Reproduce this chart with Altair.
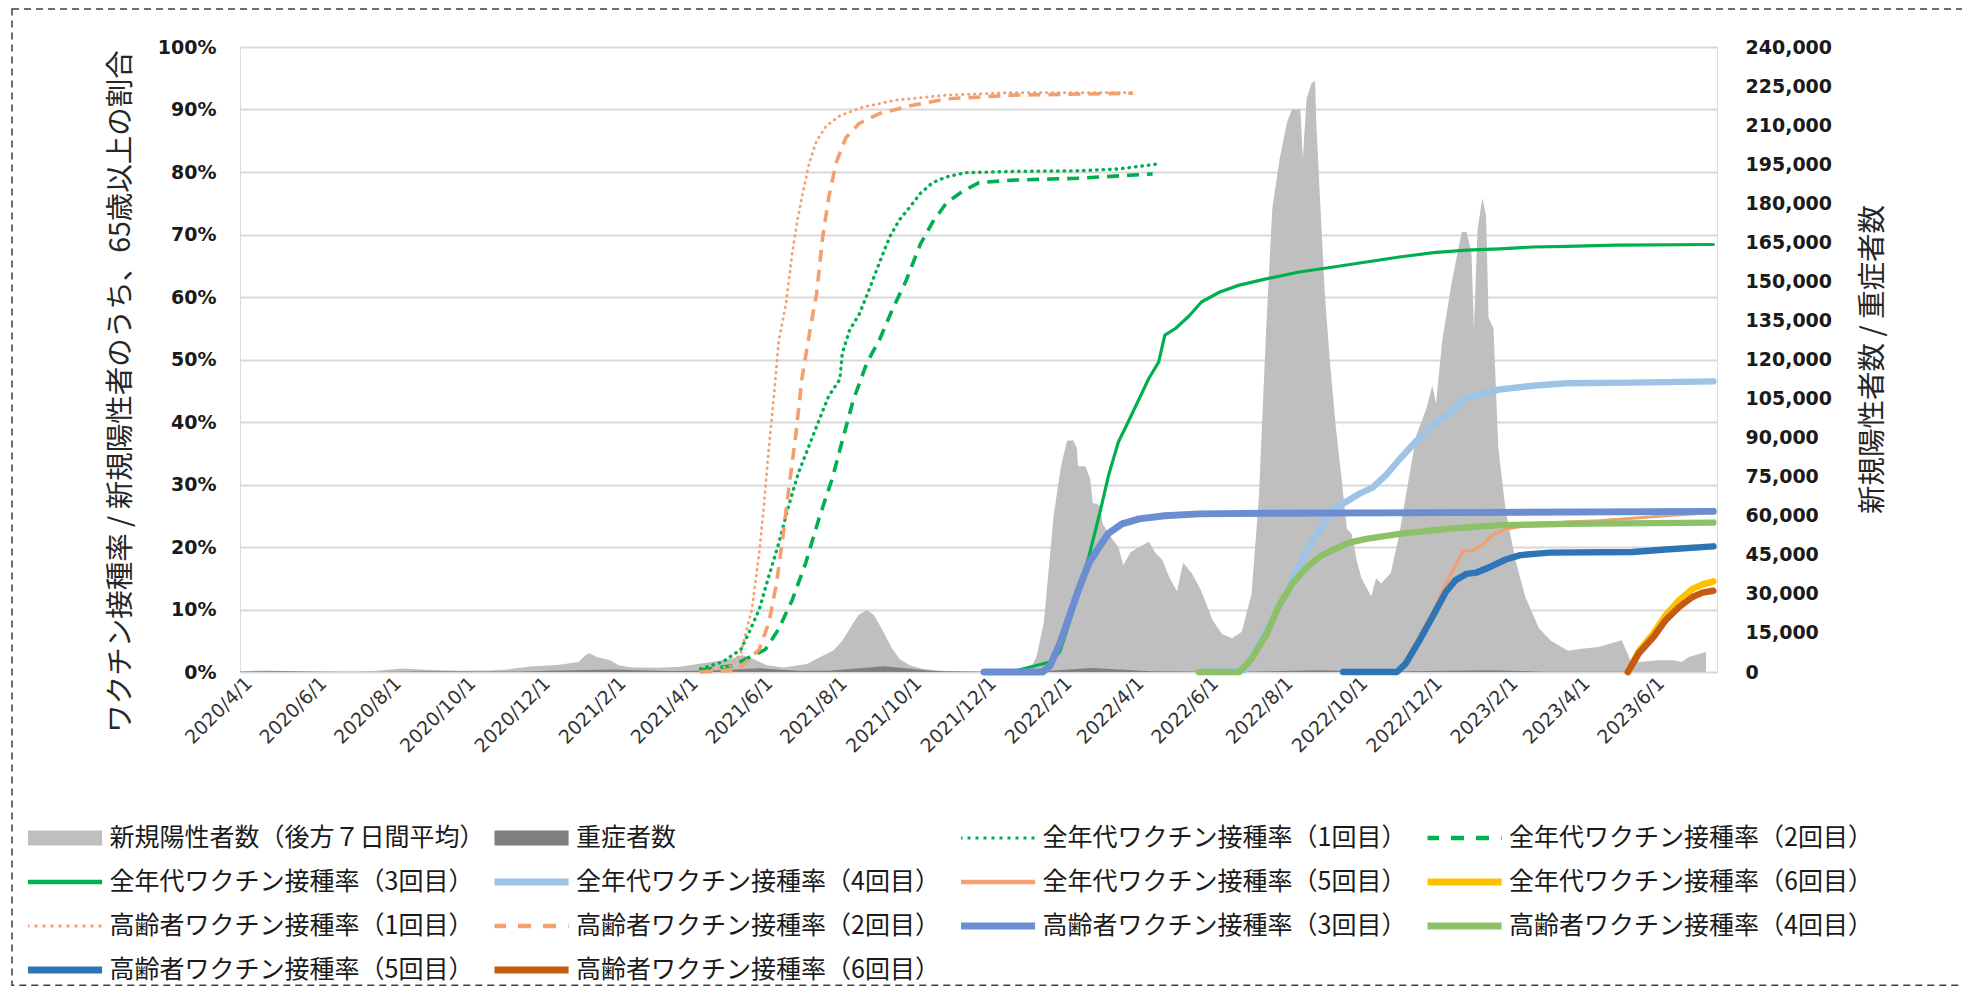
import json
import altair as alt
import pandas as pd

# ---------------- data ----------------
SERIES = [
    "新規陽性者数（後方７日間平均）", "重症者数",
    "全年代ワクチン接種率（1回目）", "全年代ワクチン接種率（2回目）",
    "全年代ワクチン接種率（3回目）", "全年代ワクチン接種率（4回目）",
    "全年代ワクチン接種率（5回目）", "全年代ワクチン接種率（6回目）",
    "高齢者ワクチン接種率（1回目）", "高齢者ワクチン接種率（2回目）",
    "高齢者ワクチン接種率（3回目）", "高齢者ワクチン接種率（4回目）",
    "高齢者ワクチン接種率（5回目）", "高齢者ワクチン接種率（6回目）",
]
COLORS = ["#BFBFBF", "#7F7F7F", "#00B050", "#00B050", "#00B050", "#9DC3E6", "#F4A06E", "#FFC000",
          "#F4A06E", "#F4A06E", "#6A8ED0", "#8CC168", "#2E75B6", "#C55A11"]

TICK_LABELS = ["2020/4/1", "2020/6/1", "2020/8/1", "2020/10/1", "2020/12/1", "2021/2/1", "2021/4/1",
               "2021/6/1", "2021/8/1", "2021/10/1", "2021/12/1", "2022/2/1", "2022/4/1", "2022/6/1",
               "2022/8/1", "2022/10/1", "2022/12/1", "2023/2/1", "2023/4/1", "2023/6/1"]
LEFT_TICKS = [0, 10, 20, 30, 40, 50, 60, 70, 80, 90, 100]
RIGHT_TICKS = [0, 15000, 30000, 45000, 60000, 75000, 90000, 105000, 120000, 135000, 150000,
               165000, 180000, 195000, 210000, 225000, 240000]

POSITIVES = [
    ("2020-03-25", 300), ("2020-04-05", 450), ("2020-04-15", 550), ("2020-05-05", 250), ("2020-05-25", 60),
    ("2020-06-25", 100), ("2020-07-15", 500), ("2020-08-05", 1300), ("2020-08-25", 900), ("2020-09-20", 500),
    ("2020-10-15", 550), ("2020-10-30", 1000), ("2020-11-20", 2200), ("2020-12-10", 2700), ("2020-12-27", 3800),
    ("2021-01-02", 6500), ("2021-01-05", 7200), ("2021-01-11", 5800), ("2021-01-22", 4500), ("2021-01-29", 2600),
    ("2021-02-09", 1700), ("2021-03-01", 1600), ("2021-03-18", 1900), ("2021-04-01", 2900), ("2021-04-16", 3900),
    ("2021-05-01", 5100), ("2021-05-10", 6500), ("2021-05-19", 5100), ("2021-05-30", 2600), ("2021-06-13", 1700),
    ("2021-07-02", 3100), ("2021-07-13", 5800), ("2021-07-24", 8400), ("2021-07-31", 12000), ("2021-08-07", 17300),
    ("2021-08-13", 21800), ("2021-08-20", 23800), ("2021-08-26", 21800), ("2021-09-02", 16000), ("2021-09-09", 9600),
    ("2021-09-16", 5000), ("2021-09-24", 2600), ("2021-10-05", 1200), ("2021-10-25", 300), ("2021-11-20", 150),
    ("2021-12-20", 250), ("2022-01-01", 1200), ("2022-01-06", 6000), ("2022-01-12", 19000), ("2022-01-20", 60000),
    ("2022-01-26", 79000), ("2022-01-31", 88800), ("2022-02-05", 89000), ("2022-02-08", 86000), ("2022-02-09", 79000),
    ("2022-02-15", 79000), ("2022-02-19", 74000), ("2022-02-21", 65000), ("2022-02-27", 64000), ("2022-03-01", 57000),
    ("2022-03-06", 53000), ("2022-03-14", 48000), ("2022-03-18", 41000), ("2022-03-24", 46000), ("2022-03-31", 48000),
    ("2022-04-08", 50000), ("2022-04-13", 46000), ("2022-04-19", 43000), ("2022-04-25", 36000), ("2022-05-01", 31000),
    ("2022-05-06", 42000), ("2022-05-13", 38000), ("2022-05-21", 31000), ("2022-05-30", 20000), ("2022-06-07", 14500),
    ("2022-06-15", 13000), ("2022-06-23", 15500), ("2022-07-01", 30000), ("2022-07-07", 67000), ("2022-07-13", 132000),
    ("2022-07-18", 178000), ("2022-07-24", 197000), ("2022-07-30", 211000), ("2022-08-03", 216000), ("2022-08-10", 216000),
    ("2022-08-12", 197000), ("2022-08-15", 220000), ("2022-08-19", 226000), ("2022-08-22", 227000), ("2022-08-23", 211000),
    ("2022-08-26", 182000), ("2022-08-30", 145000), ("2022-09-03", 120000), ("2022-09-08", 94000), ("2022-09-13", 73000),
    ("2022-09-17", 55000), ("2022-09-21", 53000), ("2022-09-25", 43000), ("2022-09-29", 36000), ("2022-10-07", 29000),
    ("2022-10-11", 36000), ("2022-10-15", 34000), ("2022-10-23", 38000), ("2022-10-30", 53000), ("2022-11-04", 67000),
    ("2022-11-13", 91000), ("2022-11-21", 101000), ("2022-11-26", 110000), ("2022-11-29", 103000), ("2022-12-04", 127000),
    ("2022-12-12", 150000), ("2022-12-20", 169000), ("2022-12-24", 169000), ("2022-12-28", 161000), ("2022-12-30", 132000),
    ("2023-01-02", 170000), ("2023-01-06", 182000), ("2023-01-09", 175000), ("2023-01-11", 136000), ("2023-01-15", 132000),
    ("2023-01-19", 86000), ("2023-01-25", 62000), ("2023-02-02", 43000), ("2023-02-10", 29000), ("2023-02-21", 17000),
    ("2023-03-03", 12000), ("2023-03-17", 8200), ("2023-03-28", 8900), ("2023-04-11", 9600), ("2023-04-30", 12200),
    ("2023-05-07", 4600), ("2023-05-15", 3800), ("2023-05-29", 4500), ("2023-06-12", 4500), ("2023-06-18", 3800),
    ("2023-06-24", 5800), ("2023-07-08", 7700),
]

SEVERE = [
    ("2020-03-25", 60), ("2020-04-30", 330), ("2020-06-10", 70), ("2020-07-15", 40), ("2020-08-25", 260),
    ("2020-10-05", 150), ("2020-11-10", 200), ("2020-12-10", 550), ("2021-01-25", 1000), ("2021-03-10", 350),
    ("2021-04-10", 450), ("2021-05-25", 1400), ("2021-06-25", 500), ("2021-07-20", 450), ("2021-09-03", 2200),
    ("2021-10-15", 350), ("2021-11-25", 70), ("2022-01-05", 50), ("2022-02-20", 1500), ("2022-04-10", 300),
    ("2022-06-20", 60), ("2022-08-25", 630), ("2022-10-10", 100), ("2022-12-10", 450), ("2023-01-15", 700),
    ("2023-02-25", 130), ("2023-05-07", 50),
]

ALL_1 = [("2021-04-06", 0.5), ("2021-04-24", 1.6), ("2021-05-09", 3.6), ("2021-05-17", 6.9), ("2021-05-24", 10.0),
         ("2021-06-01", 15.4), ("2021-06-09", 20.6), ("2021-06-17", 26.5), ("2021-06-25", 31.8), ("2021-07-04", 36.3),
         ("2021-07-12", 40.3), ("2021-07-20", 44.2), ("2021-07-29", 46.8), ("2021-07-31", 51.0), ("2021-08-06", 54.7),
         ("2021-08-14", 57.3), ("2021-08-22", 61.2), ("2021-08-31", 65.8), ("2021-09-08", 69.7), ("2021-09-16", 72.4),
         ("2021-09-24", 74.3), ("2021-10-03", 76.6), ("2021-10-13", 78.3), ("2021-10-24", 79.2), ("2021-11-09", 79.9),
         ("2021-12-18", 80.1), ("2022-02-10", 80.2), ("2022-03-15", 80.5), ("2022-04-16", 81.3)]
ALL_2 = [("2021-04-06", 0.3), ("2021-05-02", 1.0), ("2021-05-29", 3.6), ("2021-06-09", 6.9), ("2021-06-20", 11.5),
         ("2021-07-01", 17.4), ("2021-07-12", 24.6), ("2021-07-23", 31.1), ("2021-07-31", 37.0), ("2021-08-09", 43.5),
         ("2021-08-20", 49.4), ("2021-08-31", 53.4), ("2021-09-10", 58.0), ("2021-09-21", 62.5), ("2021-10-03", 68.5),
         ("2021-10-13", 72.0), ("2021-10-24", 75.0), ("2021-11-07", 77.0), ("2021-11-20", 78.3), ("2021-12-18", 78.7),
         ("2022-02-10", 79.0), ("2022-04-11", 79.7)]
ALL_3 = [("2021-11-24", 0.0), ("2021-12-20", 0.2), ("2022-01-01", 0.8), ("2022-01-17", 1.6), ("2022-01-25", 3.2),
         ("2022-02-02", 8.0), ("2022-02-10", 13.3), ("2022-02-18", 18.6), ("2022-02-27", 25.6), ("2022-03-06", 31.5),
         ("2022-03-14", 36.8), ("2022-03-22", 40.0), ("2022-03-31", 43.7), ("2022-04-08", 47.0), ("2022-04-16", 49.6),
         ("2022-04-21", 53.9), ("2022-04-30", 55.0), ("2022-05-11", 57.0), ("2022-05-21", 59.2), ("2022-06-05", 60.8),
         ("2022-06-21", 61.9), ("2022-07-13", 62.9), ("2022-08-09", 64.0), ("2022-09-06", 64.8), ("2022-10-03", 65.6),
         ("2022-10-30", 66.4), ("2022-11-27", 67.1), ("2022-12-24", 67.5), ("2023-01-20", 67.7), ("2023-02-16", 68.0),
         ("2023-03-16", 68.1), ("2023-04-26", 68.3), ("2023-07-14", 68.4)]
ALL_4 = [("2022-05-19", 0.0), ("2022-06-25", 0.3), ("2022-07-01", 2.5), ("2022-07-13", 6.5), ("2022-07-27", 11.5),
         ("2022-08-04", 15.0), ("2022-08-15", 19.2), ("2022-08-26", 22.9), ("2022-09-06", 26.0), ("2022-09-17", 27.3),
         ("2022-09-27", 28.5), ("2022-10-08", 29.5), ("2022-10-19", 31.5), ("2022-10-30", 34.0), ("2022-11-13", 37.0),
         ("2022-11-27", 39.6), ("2022-12-11", 41.6), ("2022-12-24", 43.9), ("2023-01-06", 44.5), ("2023-01-20", 45.2),
         ("2023-02-16", 45.8), ("2023-03-16", 46.2), ("2023-05-09", 46.3), ("2023-07-14", 46.5)]
ALL_5 = [("2022-09-14", 0.0), ("2022-10-28", 0.2), ("2022-11-04", 1.8), ("2022-11-15", 5.5), ("2022-11-26", 9.5),
         ("2022-12-07", 14.0), ("2022-12-21", 19.3), ("2022-12-29", 19.5), ("2023-01-06", 20.3), ("2023-01-14", 21.9),
         ("2023-01-25", 22.9), ("2023-02-16", 23.6), ("2023-03-16", 24.0), ("2023-04-11", 24.2), ("2023-05-09", 24.6),
         ("2023-06-05", 25.0), ("2023-06-27", 25.3), ("2023-07-14", 25.6)]
ALL_6 = [("2023-05-05", 0.0), ("2023-05-14", 3.3), ("2023-05-26", 6.2), ("2023-06-05", 9.1), ("2023-06-16", 11.5),
         ("2023-06-27", 13.3), ("2023-07-05", 14.0), ("2023-07-14", 14.5)]
ELD_1 = [("2021-04-06", 0.0), ("2021-05-01", 1.0), ("2021-05-09", 3.0), ("2021-05-14", 7.0), ("2021-05-18", 10.0),
         ("2021-05-24", 19.0), ("2021-05-28", 27.0), ("2021-06-01", 36.0), ("2021-06-05", 44.0), ("2021-06-09", 53.0),
         ("2021-06-15", 59.0), ("2021-06-20", 67.0), ("2021-06-24", 72.0), ("2021-06-28", 76.0), ("2021-07-04", 81.5),
         ("2021-07-10", 85.0), ("2021-07-18", 87.4), ("2021-07-29", 89.0), ("2021-08-17", 90.4), ("2021-09-13", 91.5),
         ("2021-10-24", 92.3), ("2021-12-18", 92.7), ("2022-03-26", 92.7)]
ELD_2 = [("2021-04-06", 0.0), ("2021-05-06", 0.3), ("2021-05-24", 3.6), ("2021-06-01", 8.0), ("2021-06-07", 14.0),
         ("2021-06-12", 21.0), ("2021-06-17", 29.0), ("2021-06-23", 38.0), ("2021-06-28", 47.0), ("2021-07-04", 54.0),
         ("2021-07-10", 60.6), ("2021-07-15", 69.7), ("2021-07-20", 76.0), ("2021-07-26", 81.5), ("2021-08-03", 85.5),
         ("2021-08-14", 87.8), ("2021-08-31", 89.4), ("2021-09-27", 90.7), ("2021-10-24", 91.7), ("2021-12-18", 92.3),
         ("2022-03-26", 92.6)]
ELD_3 = [("2021-11-24", 0.0), ("2022-01-11", 0.0), ("2022-01-17", 1.0), ("2022-01-25", 4.5), ("2022-02-02", 9.0),
         ("2022-02-10", 13.5), ("2022-02-18", 17.5), ("2022-02-27", 20.2), ("2022-03-06", 22.2), ("2022-03-17", 23.7),
         ("2022-03-31", 24.5), ("2022-04-21", 25.0), ("2022-05-19", 25.3), ("2022-07-13", 25.4), ("2022-12-11", 25.5),
         ("2023-07-14", 25.7)]
ELD_4 = [("2022-05-19", 0.0), ("2022-06-21", 0.0), ("2022-07-01", 2.1), ("2022-07-13", 6.0), ("2022-07-24", 10.8),
         ("2022-08-04", 14.3), ("2022-08-15", 16.7), ("2022-08-26", 18.5), ("2022-09-06", 19.6), ("2022-09-19", 20.7),
         ("2022-10-03", 21.3), ("2022-10-30", 22.1), ("2022-12-08", 22.9), ("2023-01-20", 23.5), ("2023-03-16", 23.7),
         ("2023-07-14", 23.9)]
ELD_5 = [("2022-09-14", 0.0), ("2022-10-28", 0.0), ("2022-11-04", 1.3), ("2022-11-15", 4.9), ("2022-11-26", 8.8),
         ("2022-12-07", 12.8), ("2022-12-15", 14.7), ("2022-12-24", 15.7), ("2023-01-01", 15.9), ("2023-01-11", 16.7),
         ("2023-01-25", 18.0), ("2023-02-06", 18.7), ("2023-03-02", 19.1), ("2023-05-09", 19.2), ("2023-06-05", 19.6),
         ("2023-07-14", 20.1)]
ELD_6 = [("2023-05-05", 0.0), ("2023-05-14", 3.0), ("2023-05-26", 5.6), ("2023-06-05", 8.3), ("2023-06-16", 10.4),
         ("2023-06-27", 12.0), ("2023-07-05", 12.7), ("2023-07-14", 13.0)]

LINE_DATA = [ALL_1, ALL_2, ALL_3, ALL_4, ALL_5, ALL_6, ELD_1, ELD_2, ELD_3, ELD_4, ELD_5, ELD_6]

# ---------------- styles ----------------
DOT_G = dict(strokeWidth=3.4, strokeDash=[0.5, 6], strokeCap="round")
DOT_O = dict(strokeWidth=2.8, strokeDash=[0.5, 5.5], strokeCap="round")
DASH = dict(strokeWidth=3.6, strokeDash=[12, 8], strokeCap="butt")
THIN = dict(strokeWidth=3.2, strokeCap="round")
THICK = dict(strokeWidth=6.5, strokeCap="round")
LINE_STYLES = [DOT_G, DASH, THIN, THICK, THIN, THICK, DOT_O, DASH, dict(strokeWidth=7, strokeCap="round"),
               THICK, THICK, THICK]

JP = "Noto Sans CJK JP"
NUM = "DejaVu Sans"


def frame(rows, name, col):
    df = pd.DataFrame(rows, columns=["date", col])
    df["series"] = name
    return df


def dt(s):
    y, m, d = (int(p) for p in s.split("/"))
    return alt.DateTime(year=y, month=m, date=d, utc=True)


X = alt.X(
    "date:T",
    scale=alt.Scale(type="utc", domain=[dt("2020/3/25"), dt("2023/7/17")]),
    axis=alt.Axis(values=[dt(t) for t in TICK_LABELS], format="%Y/%-m/%-d", labelAngle=315,
                  labelAlign="right", labelBaseline="middle", labelPadding=8, labelFont=NUM,
                  labelFontSize=19, labelColor="#333333", labelOverlap=False, domain=False,
                  ticks=False, grid=False, title=None),
)

Y_RIGHT = alt.Y(
    "count:Q",
    scale=alt.Scale(domain=[0, 240000], nice=False),
    axis=alt.Axis(orient="right", values=RIGHT_TICKS, labelExpr="format(datum.value, ',')",
                  labelFont=NUM, labelFontWeight="bold",
                  labelFontSize=19, labelColor="#1a1a1a", labelPadding=28, domain=False, ticks=False,
                  grid=False, title="新規陽性者数 / 重症者数", titleFont=JP, titleFontSize=28.5,
                  titleFontWeight="normal", titleColor="#262626", titleAngle=270, titleX=155,
                  titleY=312, titleAlign="center", titleBaseline="middle"),
)

Y_LEFT = alt.Y(
    "value:Q",
    scale=alt.Scale(domain=[0, 100], nice=False),
    axis=alt.Axis(orient="left", values=LEFT_TICKS, labelExpr="datum.value + '%'", labelFont=NUM,
                  labelFontWeight="bold", labelFontSize=19, labelColor="#1a1a1a", labelPadding=24,
                  domain=False, ticks=False, grid=True, gridColor="#D9D9D9", gridWidth=2,
                  title="ワクチン接種率 / 新規陽性者のうち、65歳以上の割合", titleFont=JP, titleFontSize=28.5,
                  titleFontWeight="normal", titleColor="#262626", titleAngle=270, titleX=-120,
                  titleY=344, titleAlign="center", titleBaseline="middle"),
)

# legend symbol styling by entry
GRAY_NAMES = json.dumps(SERIES[:2], ensure_ascii=False)
THICK_NAMES = json.dumps([SERIES[i] for i in (5, 7, 10, 11, 12, 13)], ensure_ascii=False)
DOT_NAMES = json.dumps([SERIES[2], SERIES[8]], ensure_ascii=False)
DASH_NAMES = json.dumps([SERIES[3], SERIES[9]], ensure_ascii=False)
width_expr = (f"indexof({GRAY_NAMES}, datum.value) >= 0 ? 15 : "
              f"(indexof({THICK_NAMES}, datum.value) >= 0 ? 7 : "
              f"(indexof({DOT_NAMES}, datum.value) >= 0 ? 3 : 4.5))")
dash_expr = (f"indexof({DOT_NAMES}, datum.value) >= 0 ? [3, 5] : "
             f"(indexof({DASH_NAMES}, datum.value) >= 0 ? [13, 12] : [1, 0])")

LEGEND = alt.Legend(
    title=None, orient="none", direction="horizontal", legendX=-212, legendY=777, columns=4,
    gridAlign="all", columnPadding=9.5, rowPadding=16,
    symbolType="M-2.7,0H2.7", symbolSize=784, clipHeight=28, symbolOffset=23.8,
    labelFont=JP, labelFontSize=25, labelColor="#1a1a1a", labelOffset=32.8, labelLimit=700,
    padding=0, symbolOpacity=1,
    symbolStrokeWidth={"expr": width_expr},
    symbolDash={"expr": dash_expr},
)
COLOR = alt.Color("series:N", scale=alt.Scale(domain=SERIES, range=COLORS), legend=LEGEND)

# ---------------- chart ----------------
pos_area = alt.Chart(frame(POSITIVES, SERIES[0], "count")).mark_area(
    color=COLORS[0], interpolate="linear").encode(x=X, y=Y_RIGHT)
sev_area = alt.Chart(frame(SEVERE, SERIES[1], "count")).mark_area(
    color=COLORS[1], interpolate="linear").encode(x=X, y=Y_RIGHT)
areas = alt.layer(pos_area, sev_area)

line_layers = []
for name, rows, style in zip(SERIES[2:], LINE_DATA, LINE_STYLES):
    line_layers.append(
        alt.Chart(frame(rows, name, "value")).mark_line(strokeJoin="round", **style).encode(
            x=X, y=Y_LEFT, color=COLOR)
    )
lines = alt.layer(*line_layers)

border = alt.Chart(pd.DataFrame({"k": [0]})).mark_rect(
    fill="transparent", stroke="#3F3F3F", strokeWidth=1.5, strokeDash=[7, 5]
).encode(x=alt.value(-228), x2=alt.value(1745), y=alt.value(-38), y2=alt.value(938.3))

chart = alt.layer(areas, lines, border).resolve_scale(y="independent").properties(
    width=1477, height=625,
    autosize=alt.AutoSizeParams(type="none"),
    padding={"left": 232, "top": 39, "right": 245, "bottom": 314},
    background="white",
).configure_view(strokeWidth=0).configure(font=JP)

chart.save("out.html", embed_options={"renderer": "svg", "actions": False})
